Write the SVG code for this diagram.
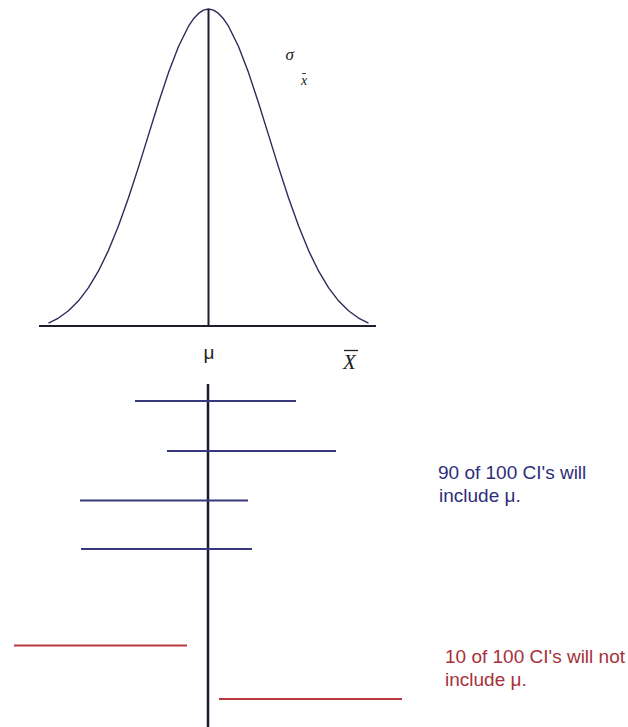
<svg xmlns="http://www.w3.org/2000/svg" width="628" height="727" viewBox="0 0 628 727">
<style>
.curve{fill:none;stroke:#2b2b5c;stroke-width:1.4;stroke-linejoin:round}
.axis{stroke:#1e1e2e;stroke-width:2}
.ci{stroke:#38387f;stroke-width:2}
.miss{stroke:#b8393f;stroke-width:2}
.blue{font-family:"Liberation Sans",Arial,sans-serif;font-size:19px;fill:#2e2e7a}
.red{font-family:"Liberation Sans",Arial,sans-serif;font-size:19px;fill:#a8303a}
.lab{font-family:"Liberation Sans",Arial,sans-serif;font-size:19px;fill:#222}
.math{font-family:"Liberation Serif","Times New Roman",serif;font-style:italic;fill:#222}
</style>
<rect width="628" height="727" fill="#ffffff"/>
<g id="distribution">
<polyline class="curve" points="48.5,323.19 58.5,318.01 68.5,310.73 78.5,300.8 88.5,287.69 98.5,270.96 108.5,250.35 118.5,225.85 128.5,197.84 138.5,167.11 148.5,134.87 158.5,102.74 168.5,72.61 178.5,46.48 188.5,26.23 193.5,18.81 198.5,13.4 203.5,10.1 208.5,9 213.5,10.1 218.5,13.4 223.5,18.81 228.5,26.23 238.5,46.48 248.5,72.61 258.5,102.74 268.5,134.87 278.5,167.11 288.5,197.84 298.5,225.85 308.5,250.35 318.5,270.96 328.5,287.69 338.5,300.8 348.5,310.73 358.5,318.01 368.5,323.19"/>
<line class="axis" x1="39" y1="326" x2="376" y2="326"/>
<line class="axis" x1="208.5" y1="9" x2="208.5" y2="326"/>
</g>
<g id="sigma-label">
<text class="math" x="285.5" y="60" font-size="17" fill="#111">σ</text>
<text class="math" x="301" y="84.5" font-size="14" fill="#444">x</text>
<line x1="302" y1="73.5" x2="306" y2="73.5" stroke="#444" stroke-width="1"/>
</g>
<g id="mu-label">
<text class="lab" x="209" y="359" text-anchor="middle">μ</text>
</g>
<g id="xbar-label">
<text class="math" x="343" y="369" font-size="21">X</text>
<line x1="344" y1="350.5" x2="358" y2="350.5" stroke="#222" stroke-width="1.3"/>
</g>
<g id="connectors">
<line x1="208" y1="384" x2="208" y2="727" stroke="#1a1a30" stroke-width="2.5"/>
</g>
<g id="ci-1"><line class="ci" x1="135" y1="401" x2="296" y2="401"/></g>
<g id="ci-2"><line class="ci" x1="167" y1="451" x2="336" y2="451"/></g>
<g id="ci-3"><line class="ci" x1="80" y1="500.5" x2="248" y2="500.5"/></g>
<g id="ci-4"><line class="ci" x1="81" y1="549" x2="252" y2="549"/></g>
<g id="ci-5"><line class="miss" x1="14" y1="645.5" x2="187" y2="645.5"/></g>
<g id="ci-6"><line class="miss" x1="219" y1="699" x2="402" y2="699"/></g>
<g id="label-include">
<text class="blue" x="438" y="479">90 of 100 CI's will</text>
<text class="blue" x="439" y="501.5">include μ.</text>
</g>
<g id="label-exclude">
<text class="red" x="445" y="663">10 of 100 CI's will not</text>
<text class="red" x="445" y="685.5">include μ.</text>
</g>
</svg>
